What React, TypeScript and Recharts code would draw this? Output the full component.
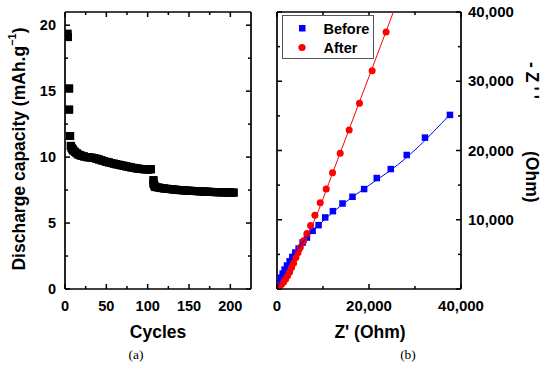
import React from 'react';
import { ScatterChart, Scatter, XAxis, YAxis, Legend } from 'recharts';

const FONT = '"Liberation Sans", Arial, Helvetica, sans-serif';

// Panel (a): discharge capacity vs cycles
const cycles = [3, 3.5, 5, 5, 6.2, 7, 8, 9, 10, 12, 14, 16, 18, 20, 23, 26, 29, 32, 35, 38, 41, 44, 47, 50, 53, 56, 59, 62, 65, 68, 71, 74, 77, 80, 83, 86, 89, 92, 95, 98, 101, 104, 107, 107, 108, 109, 111, 114, 117, 120, 123, 126, 129, 132, 135, 138, 141, 144, 147, 150, 153, 156, 159, 162, 165, 168, 171, 174, 177, 180, 183, 186, 189, 192, 195, 198, 201, 204];
const capacity = [19.35, 19.1, 15.2, 13.6, 11.6, 10.85, 10.7, 10.6, 10.5, 10.4, 10.3, 10.2, 10.15, 10.1, 10.05, 10.0, 9.98, 9.96, 9.93, 9.88, 9.82, 9.76, 9.7, 9.64, 9.6, 9.55, 9.5, 9.46, 9.42, 9.38, 9.34, 9.3, 9.26, 9.22, 9.18, 9.15, 9.12, 9.1, 9.08, 9.07, 9.06, 9.08, 8.25, 8.0, 7.85, 7.75, 7.72, 7.68, 7.65, 7.62, 7.6, 7.58, 7.56, 7.54, 7.52, 7.5, 7.49, 7.48, 7.46, 7.45, 7.44, 7.43, 7.42, 7.41, 7.4, 7.39, 7.38, 7.37, 7.36, 7.35, 7.34, 7.34, 7.33, 7.33, 7.32, 7.32, 7.31, 7.31];
const cycleDomain = [0, 225];
const capDomain = [0, 21];
const cycleTicks = [0, 25, 50, 75, 100, 125, 150, 175, 200];
const cycleMajor = [0, 50, 100, 150, 200];
const capTicks = [0, 2.5, 5, 7.5, 10, 12.5, 15, 17.5, 20];
const capMajor = [0, 5, 10, 15, 20];

// Panel (b): Nyquist plot
const beforeZre = [220, 360, 580, 870, 1230, 1660, 2170, 2750, 3330, 3980, 4700, 5570, 6510, 7740, 9040, 10480, 12150, 14240, 16410, 18940, 21690, 24730, 28200, 32170, 37600];
const beforeZim = [290, 675, 1110, 1640, 2220, 2800, 3380, 4000, 4630, 5260, 5840, 6710, 7430, 8400, 9220, 10330, 11240, 12350, 13320, 14430, 16020, 17320, 19350, 21860, 25140];
const afterZre = [290, 580, 1010, 1450, 1880, 2310, 2750, 3180, 3620, 4120, 4550, 5060, 5780, 6510, 7300, 8240, 9400, 10700, 12070, 13740, 15690, 17930, 20680, 23710];
const afterZim = [190, 390, 675, 1010, 1450, 1930, 2460, 3090, 3760, 4540, 5210, 5980, 6950, 8010, 9170, 10660, 12450, 14430, 16790, 19590, 22970, 26830, 31510, 37100];
const beforeFitZre = [0, 300, 1000, 2000, 3500, 5000, 7000, 9000, 12000, 15000, 19000, 22000, 25000, 28000, 31000, 34000, 37600];
const beforeFitZim = [0, 500, 1800, 3300, 4900, 6200, 7900, 9200, 11000, 12600, 14500, 15900, 17300, 18900, 20700, 22700, 25200];
const afterFitZre = [0, 800, 1500, 2500, 3500, 4500, 5500, 7000, 9000, 12000, 16000, 20000, 25300];
const afterFitZim = [0, 450, 1050, 2100, 3300, 4600, 6000, 8200, 11300, 16590, 23630, 30670, 40000];
const zDomain = [0, 40000];
const zTicks = [0, 10000, 20000, 30000, 40000];
const zXMajor = [0, 20000, 40000];
const zYTicks = [0, 5000, 10000, 15000, 20000, 25000, 30000, 35000, 40000];
const zYMajor = [0, 10000, 20000, 30000, 40000];
const zYLabels = [10000, 20000, 30000, 40000];

const zip = (xs: number[], ys: number[]) => xs.map((x, i) => ({ x, y: ys[i] }));
const capData = zip(cycles, capacity);
const beforeData = zip(beforeZre, beforeZim);
const afterData = zip(afterZre, afterZim);
const beforeFit = zip(beforeFitZre, beforeFitZim);
const afterFit = zip(afterFitZre, afterFitZim);

type Orient = 'bottom' | 'top' | 'left' | 'right';
const makeTick = (orient: Orient, majors: number[], labels: number[], fmt: (v: number) => string, fs: number) =>
  (props: any) => {
    const { x, y, payload } = props;
    const v = payload.value;
    const len = majors.includes(v) ? 5 : 3;
    const show = labels.includes(v);
    const common = { fontFamily: FONT, fontWeight: 700, fontSize: fs, fill: '#000' };
    let mark;
    let text = null;
    if (orient === 'bottom') {
      mark = <rect x={x - 0.75} y={y - len} width={1.5} height={len} fill="#000" />;
      if (show) text = <text x={x} y={y + 21.5} textAnchor="middle" {...common}>{fmt(v)}</text>;
    } else if (orient === 'top') {
      mark = <rect x={x - 0.75} y={y} width={1.5} height={len} fill="#000" />;
    } else if (orient === 'left') {
      mark = <rect x={x} y={y - 0.75} width={len} height={1.5} fill="#000" />;
      if (show) text = <text x={x - 9} y={y + 5} textAnchor="end" {...common}>{fmt(v)}</text>;
    } else {
      mark = <rect x={x - len} y={y - 0.75} width={len} height={1.5} fill="#000" />;
      if (show) text = <text x={x + 7} y={y + 5} textAnchor="start" {...common}>{fmt(v)}</text>;
    }
    return <g>{mark}{text}</g>;
  };

const plain = (v: number) => String(v);
const comma = (v: number) => v.toLocaleString('en-US');
const axisLine = { stroke: '#000', strokeWidth: 1.7 };

const square = (size: number, color: string) => (p: any) =>
  <rect x={p.cx - size / 2} y={p.cy - size / 2} width={size} height={size} fill={color} />;
const dot = (r: number, color: string) => (p: any) => <circle cx={p.cx} cy={p.cy} r={r} fill={color} />;
const none = (p: any) => <circle cx={p.cx} cy={p.cy} r={0} fill="none" />;

const LegendBox = () => (
  <svg width={92} height={44} style={{ display: 'block' }}>
    <rect x={0.5} y={0.5} width={91} height={43} fill="#fff" stroke="#555" strokeWidth={1} />
    <rect x={17} y={10} width={6.5} height={6.5} fill="#0000ff" />
    <circle cx={20} cy={32.5} r={3.6} fill="#ff0000" />
    <text x={41.5} y={18.5} fontFamily={FONT} fontWeight={700} fontSize={14.5} fill="#000">Before</text>
    <text x={41.5} y={38} fontFamily={FONT} fontWeight={700} fontSize={14.5} fill="#000">After</text>
  </svg>
);

const H = 372;

export default function App() {
  return (
    <div style={{ position: 'absolute', left: 0, top: 0, width: 550, height: 372, background: '#fff', overflow: 'hidden' }}>
      <div style={{ position: 'absolute', left: 0, top: 0 }}>
        <ScatterChart width={275} height={H} margin={{ top: 0, right: 0, bottom: 0, left: 0 }}>
          <XAxis xAxisId="b" type="number" dataKey="x" domain={cycleDomain} allowDataOverflow ticks={cycleTicks} interval={0}
            tickSize={0} tickMargin={0} tickLine={false} axisLine={axisLine} height={83}
            tick={makeTick('bottom', cycleMajor, cycleMajor, plain, 14.5)} />
          <XAxis xAxisId="t" orientation="top" type="number" dataKey="x" domain={cycleDomain} allowDataOverflow ticks={cycleTicks} interval={0}
            tickSize={0} tickMargin={0} tickLine={false} axisLine={axisLine} height={12}
            tick={makeTick('top', cycleMajor, [], plain, 14.5)} />
          <YAxis yAxisId="l" type="number" dataKey="y" domain={capDomain} allowDataOverflow ticks={capTicks} interval={0}
            tickSize={0} tickMargin={0} tickLine={false} axisLine={axisLine} width={65}
            tick={makeTick('left', capMajor, capMajor, plain, 14.5)} />
          <YAxis yAxisId="r" orientation="right" type="number" dataKey="y" domain={capDomain} allowDataOverflow ticks={capTicks} interval={0}
            tickSize={0} tickMargin={0} tickLine={false} axisLine={axisLine} width={24}
            tick={makeTick('right', capMajor, [], plain, 14.5)} />
          <Scatter xAxisId="t" yAxisId="r" data={capData} shape={square(8, '#000')} isAnimationActive={false} />
          <Scatter xAxisId="b" yAxisId="l" data={capData} shape={square(8, '#000')} isAnimationActive={false} />
        </ScatterChart>
      </div>
      <div style={{ position: 'absolute', left: 270, top: 0 }}>
        <ScatterChart width={280} height={H} margin={{ top: 0, right: 0, bottom: 0, left: 0 }}>
          <XAxis xAxisId="b" type="number" dataKey="x" domain={zDomain} allowDataOverflow ticks={zTicks} interval={0}
            tickSize={0} tickMargin={0} tickLine={false} axisLine={axisLine} height={83}
            tick={makeTick('bottom', zXMajor, zXMajor, comma, 15)} />
          <XAxis xAxisId="t" orientation="top" type="number" dataKey="x" domain={zDomain} allowDataOverflow ticks={zTicks} interval={0}
            tickSize={0} tickMargin={0} tickLine={false} axisLine={axisLine} height={12}
            tick={makeTick('top', zXMajor, [], comma, 15)} />
          <YAxis yAxisId="l" type="number" dataKey="y" domain={zDomain} allowDataOverflow ticks={zYTicks} interval={0}
            tickSize={0} tickMargin={0} tickLine={false} axisLine={axisLine} width={7}
            tick={makeTick('left', zYMajor, [], comma, 15)} />
          <YAxis yAxisId="r" orientation="right" type="number" dataKey="y" domain={zDomain} allowDataOverflow ticks={zYTicks} interval={0}
            tickSize={0} tickMargin={0} tickLine={false} axisLine={axisLine} width={89}
            tick={makeTick('right', zYMajor, zYLabels, comma, 15)} />
          <Scatter name="Before" xAxisId="b" yAxisId="l" data={beforeData} shape={square(6.5, '#0000ff')} isAnimationActive={false} />
          <Scatter name="After" xAxisId="b" yAxisId="l" data={afterData} shape={dot(3.5, '#ff0000')} isAnimationActive={false} />
          <Scatter xAxisId="t" yAxisId="r" data={beforeFit} shape={none} line={{ stroke: '#0000ff', strokeWidth: 1 }} lineJointType="monotoneX" isAnimationActive={false} legendType="none" />
          <Scatter xAxisId="t" yAxisId="r" data={afterFit} shape={none} line={{ stroke: '#ff0000', strokeWidth: 1 }} lineJointType="monotoneX" isAnimationActive={false} legendType="none" />
          <Legend layout="vertical" align="center" verticalAlign="middle" content={<LegendBox />}
            wrapperStyle={{ left: 12, top: 15, width: 92, height: 44 }} />
        </ScatterChart>
      </div>
      <svg width={550} height={372} style={{ position: 'absolute', left: 0, top: 0, pointerEvents: 'none' }}>
        <text transform="translate(19,149) rotate(-90)" textAnchor="middle" dominantBaseline="central"
          fontFamily={FONT} fontWeight={700} fontSize={17.5} fill="#000">
          Discharge capacity (mAh.g<tspan dy={-7} fontSize={11}>−1</tspan><tspan dy={7}>)</tspan>
        </text>
        <text x={158} y={338} textAnchor="middle" fontFamily={FONT} fontWeight={700} fontSize={17.5} fill="#000">Cycles</text>
        <text x={370} y={338} textAnchor="middle" fontFamily={FONT} fontWeight={700} fontSize={17.5} fill="#000">Z' (Ohm)</text>
        <text transform="translate(532,0) rotate(90)" dominantBaseline="central"
          fontFamily={FONT} fontWeight={700} fontSize={17.5} fill="#000">
          <tspan x={62} letterSpacing={4}>-Z''</tspan>
          <tspan x={151}>(Ohm)</tspan>
        </text>
        <text x={136} y={359} textAnchor="middle" fontFamily='"Liberation Serif", "Times New Roman", serif' fontSize={13.5} fill="#000">(a)</text>
        <text x={408} y={359} textAnchor="middle" fontFamily='"Liberation Serif", "Times New Roman", serif' fontSize={13.5} fill="#000">(b)</text>
      </svg>
    </div>
  );
}
